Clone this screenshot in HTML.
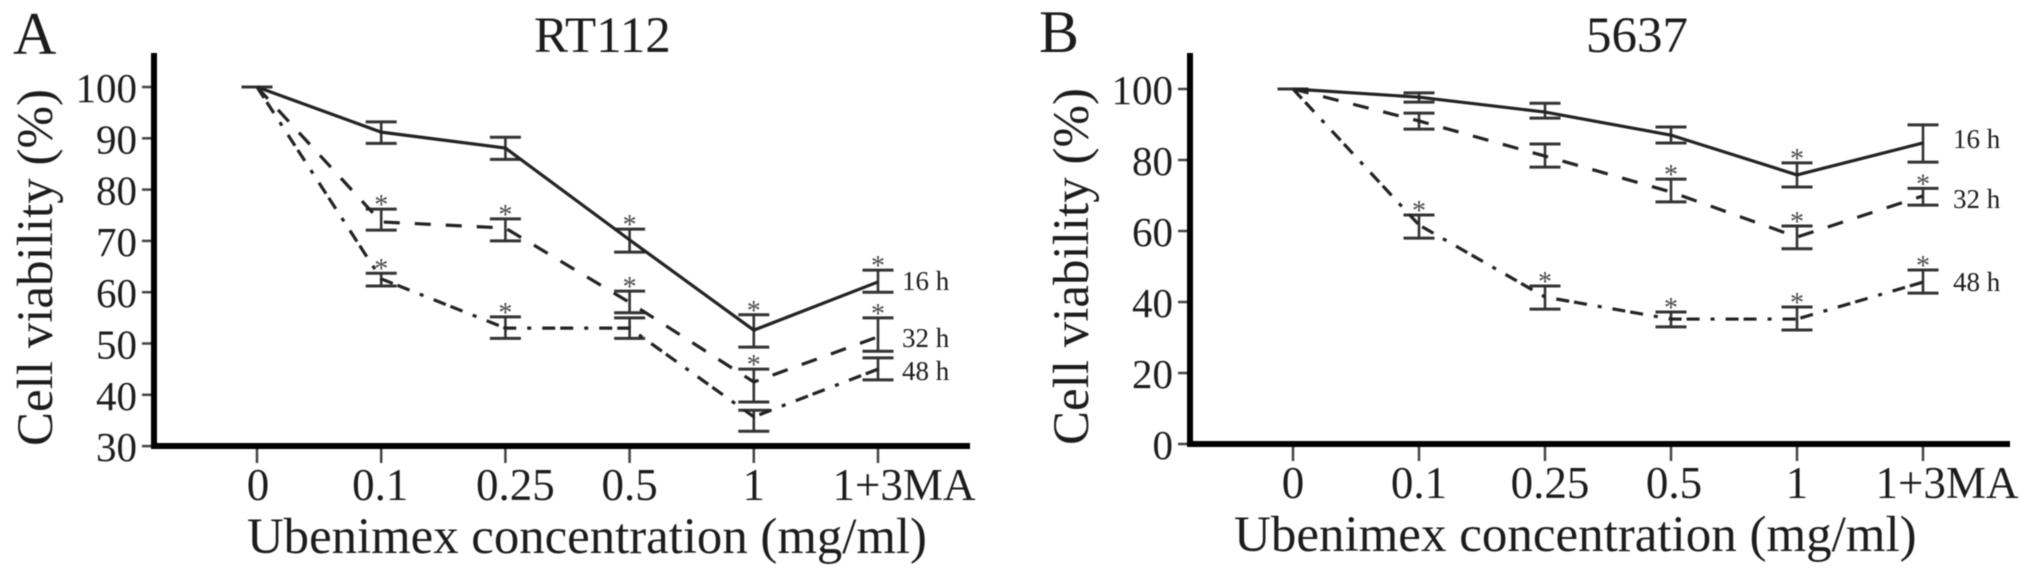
<!DOCTYPE html>
<html lang="en">
<head>
<meta charset="utf-8">
<title>Cell viability charts</title>
<style>
html,body{margin:0;padding:0;background:#fff;width:2031px;height:576px;overflow:hidden}
svg{display:block;filter:blur(0.55px)}
text{font-family:"Liberation Serif",serif;fill:#1c1c1c}
</style>
</head>
<body>
<svg id="figure" xmlns="http://www.w3.org/2000/svg" width="2031" height="576" viewBox="0 0 2031 576">
  <text x="13" y="54" font-size="60">A</text>
  <text x="1039" y="52" font-size="60">B</text>
  <text x="534" y="52" font-size="51">RT112</text>
  <text x="1586" y="52" font-size="51">5637</text>
  <text transform="translate(52 446) rotate(-90)" font-size="51">Cell viability (%)</text>
  <text transform="translate(1088 445) rotate(-90)" font-size="51">Cell viability (%)</text>
  <text x="247" y="553" font-size="50.8">Ubenimex concentration (mg/ml)</text>
  <text x="1234" y="551" font-size="51">Ubenimex concentration (mg/ml)</text>
  <text x="902" y="290" font-size="27">16 h</text>
  <text x="902" y="347" font-size="27">32 h</text>
  <text x="902" y="380" font-size="27">48 h</text>
  <text x="1953" y="148" font-size="27">16 h</text>
  <text x="1953" y="208" font-size="27">32 h</text>
  <text x="1953" y="291" font-size="27">48 h</text>
</svg>
<script>
const categories = ['0', '0.1', '0.25', '0.5', '1', '1+3MA'];

const aTicks = [100, 90, 80, 70, 60, 50, 40, 30];
const a16Mean = [100, 91.2, 88.1, 70.2, 52.6, 62];
const a16Upper = [100, 93.2, 90.2, 72.3, 55.6, 64.3];
const a16Lower = [100, 89, 85.9, 67.8, 49.3, 60];
const a16Star = [0, 0, 0, 1, 1, 1];
const a32Mean = [100, 73.7, 72.5, 58, 42.5, 51.3];
const a32Upper = [100, 76.2, 74.3, 60.2, 45, 55];
const a32Lower = [100, 72.1, 70, 56, 38.6, 48.5];
const a32Star = [0, 1, 1, 1, 1, 1];
const a48Mean = [100, 62.6, 53, 53, 35.7, 45];
const a48Upper = [100, 63.7, 55.2, 55, 37, 47.2];
const a48Lower = [100, 61.2, 51, 51, 32.9, 42.9];
const a48Star = [0, 1, 1, 0, 0, 0];

const bTicks = [100, 80, 60, 40, 20, 0];
const b16Mean = [100, 97.7, 93.5, 87, 75.8, 84.8];
const b16Upper = [100, 98.9, 96, 89.3, 79.2, 89.9];
const b16Lower = [100, 96.3, 91.8, 84.8, 72.4, 79.4];
const b16Star = [0, 0, 0, 0, 1, 0];
const b32Mean = [100, 91, 81.1, 71, 58.3, 69.9];
const b32Upper = [100, 93.2, 84.5, 74.6, 61.4, 72];
const b32Lower = [100, 88.7, 78, 68.2, 55, 67.3];
const b32Star = [0, 0, 0, 1, 1, 1];
const b48Mean = [100, 61.7, 41.4, 35.2, 35.2, 45.6];
const b48Upper = [100, 64.5, 44.5, 37.2, 38.6, 49];
const b48Lower = [100, 58, 38, 33, 32.1, 42.5];
const b48Star = [0, 1, 1, 1, 1, 1];

const svg = document.getElementById('figure');
const NS = 'http://www.w3.org/2000/svg';

function make(tag, attrs, text) {
  const node = document.createElementNS(NS, tag);
  for (const key in attrs) node.setAttribute(key, attrs[key]);
  if (text !== undefined) node.textContent = text;
  svg.appendChild(node);
  return node;
}

function drawPanel(p) {
  const x = i => p.x0 + i * p.xStep;
  const y = v => p.yBase + (p.vBase - v) * p.yScale;

  categories.forEach((cat, i) => {
    const tick = make('line', {x1: x(i), x2: x(i), y1: p.axisY, y2: p.axisY + 17, stroke: '#444', 'stroke-width': 2.5});
    
    
    const label = make('text', {x: x(i) + p.labelNudge[i], y: p.axisY + 54, 'font-size': 45, 'text-anchor': 'middle'}, cat);
    
    
  });

  p.ticks.forEach(v => {
    const tick = make('line', {x1: p.axisX - 12, x2: p.axisX, y1: y(v), y2: y(v), stroke: '#444', 'stroke-width': 2.5});
    
    
    const label = make('text', {x: p.axisX - 17, y: y(v) + 15, 'font-size': 41, 'text-anchor': 'end'}, String(v));
    
    
  });

  const yAxis = make('line', {x1: p.axisX, x2: p.axisX, y1: 53, y2: p.axisY + 3, stroke: '#000', 'stroke-width': 6});
  
  
  const xAxis = make('line', {x1: p.axisX - 3, x2: p.axisEnd, y1: p.axisY, y2: p.axisY, stroke: '#000', 'stroke-width': 6});
  
  

  p.series.forEach(s => {
    s.mean.forEach((m, i) => {
      const stem = make('line', {x1: x(i), x2: x(i), y1: y(s.upper[i]), y2: y(s.lower[i]), stroke: '#333', 'stroke-width': 2.6});
      
      
      const capTop = make('line', {x1: x(i) - 15.5, x2: x(i) + 15.5, y1: y(s.upper[i]), y2: y(s.upper[i]), stroke: '#333', 'stroke-width': 3});
      
      
      const capBottom = make('line', {x1: x(i) - 15.5, x2: x(i) + 15.5, y1: y(s.lower[i]), y2: y(s.lower[i]), stroke: '#333', 'stroke-width': 3});
      
      
      if (s.star[i]) {
        const star = make('text', {x: x(i), y: y(s.upper[i]) + 5, 'font-size': 28, 'text-anchor': 'middle', style: 'fill:#4a4a4a'}, '*');
        
        
      }
    });
    const pts = s.mean.map((m, i) => x(i) + ',' + y(m)).join(' ');
    const line = make('polyline', {points: pts, fill: 'none', stroke: '#222', 'stroke-width': 3.2, 'stroke-dasharray': s.dash});
    
    
  });
}

drawPanel({
  x0: 257, xStep: 124.2, yBase: 87, vBase: 100, yScale: 5.13,
  axisX: 154, axisY: 446, axisEnd: 970,
  ticks: aTicks, labelNudge: [1, -1, 10, 0, 0, 26],
  series: [
    {mean: a48Mean, upper: a48Upper, lower: a48Lower, star: a48Star, dash: '13 5 13 11 4 11'},
    {mean: a32Mean, upper: a32Upper, lower: a32Lower, star: a32Star, dash: '16 15'},
    {mean: a16Mean, upper: a16Upper, lower: a16Lower, star: a16Star, dash: 'none'}
  ]
});

drawPanel({
  x0: 1293, xStep: 126, yBase: 89, vBase: 100, yScale: 3.55,
  axisX: 1190, axisY: 444, axisEnd: 2010,
  ticks: bTicks, labelNudge: [0, 0, 5, 3, 0, 24],
  series: [
    {mean: b48Mean, upper: b48Upper, lower: b48Lower, star: b48Star, dash: '13 5 13 11 4 11'},
    {mean: b32Mean, upper: b32Upper, lower: b32Lower, star: b32Star, dash: '16 15'},
    {mean: b16Mean, upper: b16Upper, lower: b16Lower, star: b16Star, dash: 'none'}
  ]
});
</script>
</body>
</html>
